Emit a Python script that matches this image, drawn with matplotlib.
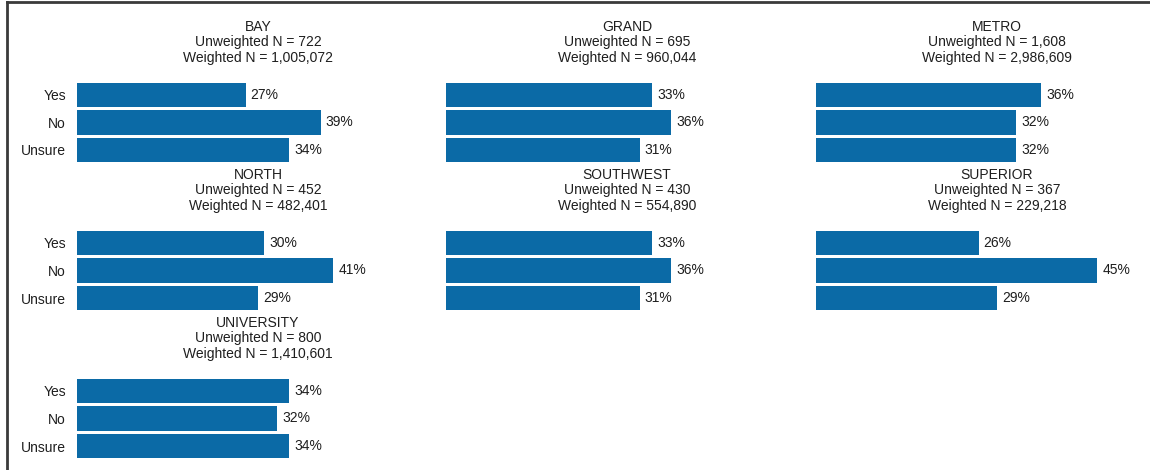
import matplotlib
matplotlib.use("Agg")
import matplotlib.pyplot as plt
from matplotlib.lines import Line2D

plt.rcParams["font.family"] = ["Liberation Sans", "DejaVu Sans"]

regions = ["BAY", "GRAND", "METRO", "NORTH", "SOUTHWEST", "SUPERIOR", "UNIVERSITY"]
unweighted_n = ["722", "695", "1,608", "452", "430", "367", "800"]
weighted_n = ["1,005,072", "960,044", "2,986,609", "482,401", "554,890", "229,218", "1,410,601"]
answers = ["Yes", "No", "Unsure"]
yes_pct = [27, 33, 36, 30, 33, 26, 34]
no_pct = [39, 36, 32, 41, 36, 45, 32]
unsure_pct = [34, 31, 32, 29, 31, 29, 34]

BAR_COLOR = "#0b6aa6"
TEXT_COLOR = "#1e1e1e"
W, H = 1150, 470

fig = plt.figure(figsize=(W / 100, H / 100), dpi=100)
fig.patch.set_facecolor("white")

col_left = [77, 446, 816]
row_top = [81.25, 229.25, 377.25]
px_per_pct = 6.25
ax_w = 300
ax_h = 82.5


def fx(x):
    return x / W


def fy(y):
    return 1 - y / H


for i, name in enumerate(regions):
    r, c = divmod(i, 3)
    left = col_left[c]
    top = row_top[r]
    ax = fig.add_axes([fx(left), fy(top + ax_h), fx(ax_w), ax_h / H])
    vals = [yes_pct[i], no_pct[i], unsure_pct[i]]
    ax.barh(range(3), vals, height=0.873, color=BAR_COLOR, edgecolor="none")
    ax.set_xlim(0, ax_w / px_per_pct)
    ax.set_ylim(2.5, -0.5)
    for k, v in enumerate(vals):
        ax.text(v + 0.8, k, f"{v}%", va="center", ha="left", fontsize=10,
                color=TEXT_COLOR, clip_on=False)
    for s in ax.spines.values():
        s.set_visible(False)
    ax.set_xticks([])
    ax.set_yticks(range(3))
    if c == 0:
        ax.set_yticklabels(answers, fontsize=10, color=TEXT_COLOR)
    else:
        ax.set_yticklabels([])
    ax.tick_params(axis="y", length=0, pad=8)

    cx = left + 181
    ty = top - 54.5
    lines = [name, f"Unweighted N = {unweighted_n[i]}", f"Weighted N = {weighted_n[i]}"]
    for j, t in enumerate(lines):
        fig.text(fx(cx), fy(ty + j * 15.5), t, ha="center", va="center",
                 fontsize=10, color=TEXT_COLOR)

# frame lines along the top and left edges
fig.add_artist(Line2D([fx(7), fx(7)], [fy(2), 0], transform=fig.transFigure,
                      color="#3a3a3a", linewidth=2))
fig.add_artist(Line2D([fx(7), 1], [fy(2), fy(2)], transform=fig.transFigure,
                      color="#3a3a3a", linewidth=2))

fig.savefig("out.png", dpi=100)
